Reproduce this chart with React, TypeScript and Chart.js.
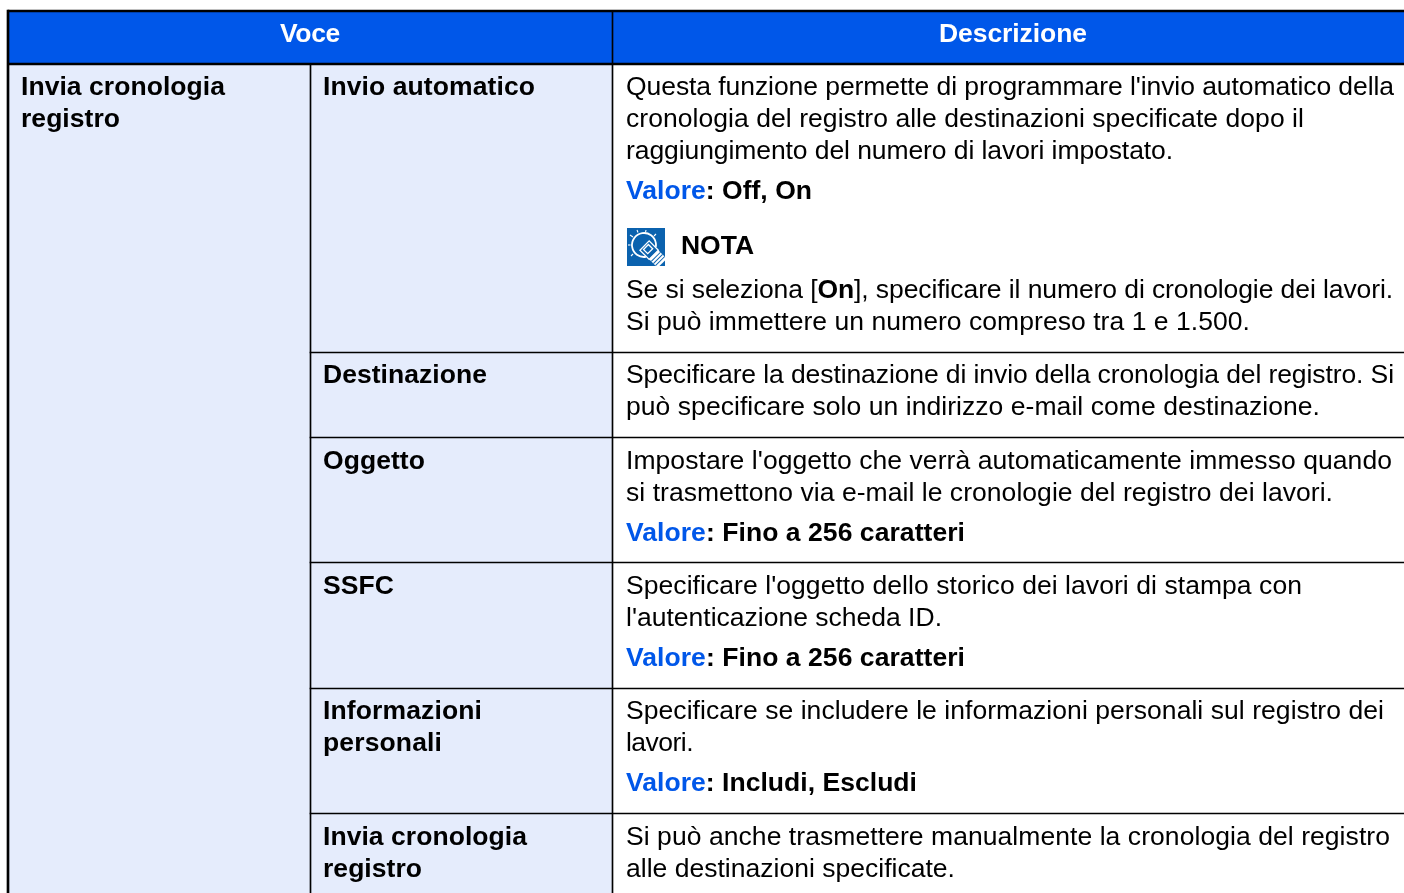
import React, { useEffect, useRef } from "react";
import { Chart, registerables } from "chart.js";

Chart.register(...registerables);

const WIDTH = 1404;
const HEIGHT = 893;
const FONT_SIZE = 26.5;
const FAMILY = '"Liberation Sans", Arial, sans-serif';
const BLUE = "#0057E9";
const PALE = "#E5ECFC";
const INK = "#000000";
const ICON_BLUE = "#0B62AE";

const rowRules = [352, 437, 562, 688, 813];
const headerCells = [
  { x: 310.5, y: [12, 63], w: 603 },
  { x: 1008.5, y: [12, 63], w: 791 },
];
const paleCells = [{ x: 310.5, y: [65, 893], w: 603 }];
const inkRules = [
  { x: 8, y: [10, 893], w: 2 },
  { x: 706, y: [10, 12], w: 1396 },
  { x: 706, y: [63, 65], w: 1396 },
  { x: 612.5, y: [12, 63], w: 1 },
  { x: 310.5, y: [65, 893], w: 1 },
  { x: 612.5, y: [65, 893], w: 1 },
  ...rowRules.map((r) => ({ x: 461, y: [r, r + 1], w: 302 })),
  ...rowRules.map((r) => ({ x: 1008.5, y: [r, r + 1], w: 791 })),
];

type Seg = [string, "r" | "b" | "v" | "w"];
type Line = { x: number; y: number; end: number; segs: Seg[] };

const headerLabels: Line[] = [
  { x: 280, end: 340, y: 42, segs: [["Voce", "w"]] },
  { x: 939, end: 1087, y: 42, segs: [["Descrizione", "w"]] },
];
const firstColumn: Line[] = [
  { x: 21, end: 225, y: 95, segs: [["Invia cronologia", "b"]] },
  { x: 21, end: 120, y: 127, segs: [["registro", "b"]] },
];
const secondColumn: Line[] = [
  { x: 323, end: 535, y: 95, segs: [["Invio automatico", "b"]] },
  { x: 323, end: 487, y: 383, segs: [["Destinazione", "b"]] },
  { x: 323, end: 425, y: 469, segs: [["Oggetto", "b"]] },
  { x: 323, end: 394, y: 594, segs: [["SSFC", "b"]] },
  { x: 323, end: 482, y: 719, segs: [["Informazioni", "b"]] },
  { x: 323, end: 442, y: 751, segs: [["personali", "b"]] },
  { x: 323, end: 527, y: 845, segs: [["Invia cronologia", "b"]] },
  { x: 323, end: 422, y: 877, segs: [["registro", "b"]] },
];
const thirdColumn: Line[] = [
  { x: 626, end: 1394, y: 95, segs: [["Questa funzione permette di programmare l'invio automatico della", "r"]] },
  { x: 626, end: 1304, y: 127, segs: [["cronologia del registro alle destinazioni specificate dopo il", "r"]] },
  { x: 626, end: 1173, y: 159, segs: [["raggiungimento del numero di lavori impostato.", "r"]] },
  { x: 626, end: 812, y: 199, segs: [["Valore", "v"], [": Off, On", "b"]] },
  { x: 681, end: 754, y: 254, segs: [["NOTA", "b"]] },
  { x: 626, end: 1393, y: 298, segs: [["Se si seleziona [", "r"], ["On", "b"], ["], specificare il numero di cronologie dei lavori.", "r"]] },
  { x: 626, end: 1250, y: 330, segs: [["Si può immettere un numero compreso tra 1 e 1.500.", "r"]] },
  { x: 626, end: 1394, y: 383, segs: [["Specificare la destinazione di invio della cronologia del registro. Si", "r"]] },
  { x: 626, end: 1320, y: 415, segs: [["può specificare solo un indirizzo e-mail come destinazione.", "r"]] },
  { x: 626, end: 1392, y: 469, segs: [["Impostare l'oggetto che verrà automaticamente immesso quando", "r"]] },
  { x: 626, end: 1333, y: 501, segs: [["si trasmettono via e-mail le cronologie del registro dei lavori.", "r"]] },
  { x: 626, end: 965, y: 541, segs: [["Valore", "v"], [": Fino a 256 caratteri", "b"]] },
  { x: 626, end: 1302, y: 594, segs: [["Specificare l'oggetto dello storico dei lavori di stampa con", "r"]] },
  { x: 626, end: 942, y: 626, segs: [["l'autenticazione scheda ID.", "r"]] },
  { x: 626, end: 965, y: 666, segs: [["Valore", "v"], [": Fino a 256 caratteri", "b"]] },
  { x: 626, end: 1384, y: 719, segs: [["Specificare se includere le informazioni personali sul registro dei", "r"]] },
  { x: 626, end: 693, y: 751, segs: [["lavori.", "r"]] },
  { x: 626, end: 917, y: 791, segs: [["Valore", "v"], [": Includi, Escludi", "b"]] },
  { x: 626, end: 1390, y: 845, segs: [["Si può anche trasmettere manualmente la cronologia del registro", "r"]] },
  { x: 626, end: 955, y: 877, segs: [["alle destinazioni specificate.", "r"]] },
];

const segStyle = (k: Seg[1]) => ({
  font: `${k === "r" ? "normal" : "bold"} ${FONT_SIZE}px ${FAMILY}`,
  color: k === "v" ? BLUE : k === "w" ? "#FFFFFF" : INK,
});

const drawBulb = (ctx: any, ix: number, iy: number) => {
  ctx.fillStyle = ICON_BLUE;
  ctx.fillRect(ix, iy, 38, 38);
  ctx.strokeStyle = "#FFFFFF";
  ctx.fillStyle = "#FFFFFF";
  ctx.lineWidth = 1.8;
  ctx.beginPath();
  ctx.arc(ix + 17, iy + 17, 12, Math.PI * 0.45, Math.PI * 2.05);
  ctx.stroke();
  ctx.lineWidth = 1.1;
  for (const [a, b, c, d] of [
    [3, 7, 6, 9], [10, 2, 11, 4.5], [19, 2, 18.5, 4.5], [29, 6, 27, 8], [1, 17, 3.5, 17], [4, 28, 6, 26],
  ]) {
    ctx.beginPath();
    ctx.moveTo(ix + a, iy + b);
    ctx.lineTo(ix + c, iy + d);
    ctx.stroke();
  }
  ctx.save();
  ctx.translate(ix + 22.5, iy + 22.5);
  ctx.rotate(-Math.PI / 4);
  ctx.fillStyle = ICON_BLUE;
  ctx.fillRect(-6.5, -7, 13, 13);
  ctx.lineWidth = 1.3;
  ctx.strokeRect(-6.5, -7, 13, 13);
  ctx.strokeRect(-3.5, -5, 7, 6);
  ctx.fillStyle = "#FFFFFF";
  ctx.fillRect(-6.5, 6, 13, 12);
  ctx.fillStyle = ICON_BLUE;
  ctx.fillRect(-6.5, 8.5, 13, 1);
  ctx.fillRect(-6.5, 11.5, 13, 1);
  ctx.fillRect(-6.5, 14.5, 13, 1);
  ctx.restore();
};

const tablePlugin = {
  id: "tableText",
  afterDatasetsDraw(chart: any) {
    const { ctx, scales } = chart;
    const X = (v: number) => scales.x.getPixelForValue(v);
    const Y = (v: number) => scales.y.getPixelForValue(v);
    ctx.save();
    ctx.textBaseline = "alphabetic";
    ctx.textAlign = "left";
    ctx.fontKerning = "normal";
    for (const line of [...headerLabels, ...firstColumn, ...secondColumn, ...thirdColumn]) {
      ctx.letterSpacing = "0px";
      let total = 0;
      let chars = 0;
      for (const [t, k] of line.segs) {
        ctx.font = segStyle(k).font;
        total += ctx.measureText(t).width;
        chars += t.length;
      }
      const spacing = (line.end - line.x - total) / chars;
      ctx.letterSpacing = `${spacing.toFixed(3)}px`;
      let px = X(line.x);
      for (const [t, k] of line.segs) {
        const s = segStyle(k);
        ctx.font = s.font;
        ctx.fillStyle = s.color;
        ctx.fillText(t, px, Y(line.y));
        px += ctx.measureText(t).width;
      }
    }
    ctx.letterSpacing = "0px";
    drawBulb(ctx, X(627), Y(228));
    ctx.restore();
  },
};

const barSets = (cells: any[], color: string, order: number) =>
  cells.map((c) => ({
    data: [c],
    backgroundColor: color,
    borderWidth: 0,
    grouped: false,
    order,
    barThickness: c.w,
  }));

export default function App() {
  const ref = useRef<HTMLCanvasElement>(null);
  useEffect(() => {
    const chart = new Chart(ref.current!, {
      type: "bar",
      data: {
        datasets: [
          ...barSets(paleCells, PALE, 3),
          ...barSets(headerCells, BLUE, 2),
          ...barSets(inkRules, INK, 1),
        ] as any,
      },
      options: {
        animation: false,
        responsive: false,
        devicePixelRatio: 1,
        layout: { padding: 0 },
        plugins: { legend: { display: false }, tooltip: { enabled: false }, title: { display: false } },
        scales: {
          x: { type: "linear", min: 0, max: WIDTH, offset: false, display: false },
          y: { type: "linear", min: 0, max: HEIGHT, reverse: true, display: false },
        },
      },
      plugins: [tablePlugin],
    } as any);
    return () => chart.destroy();
  }, []);
  return (
    <canvas
      ref={ref}
      width={WIDTH}
      height={HEIGHT}
      style={{ position: "fixed", left: 0, top: 0, width: WIDTH, height: HEIGHT, display: "block", background: "#fff" }}
    />
  );
}
